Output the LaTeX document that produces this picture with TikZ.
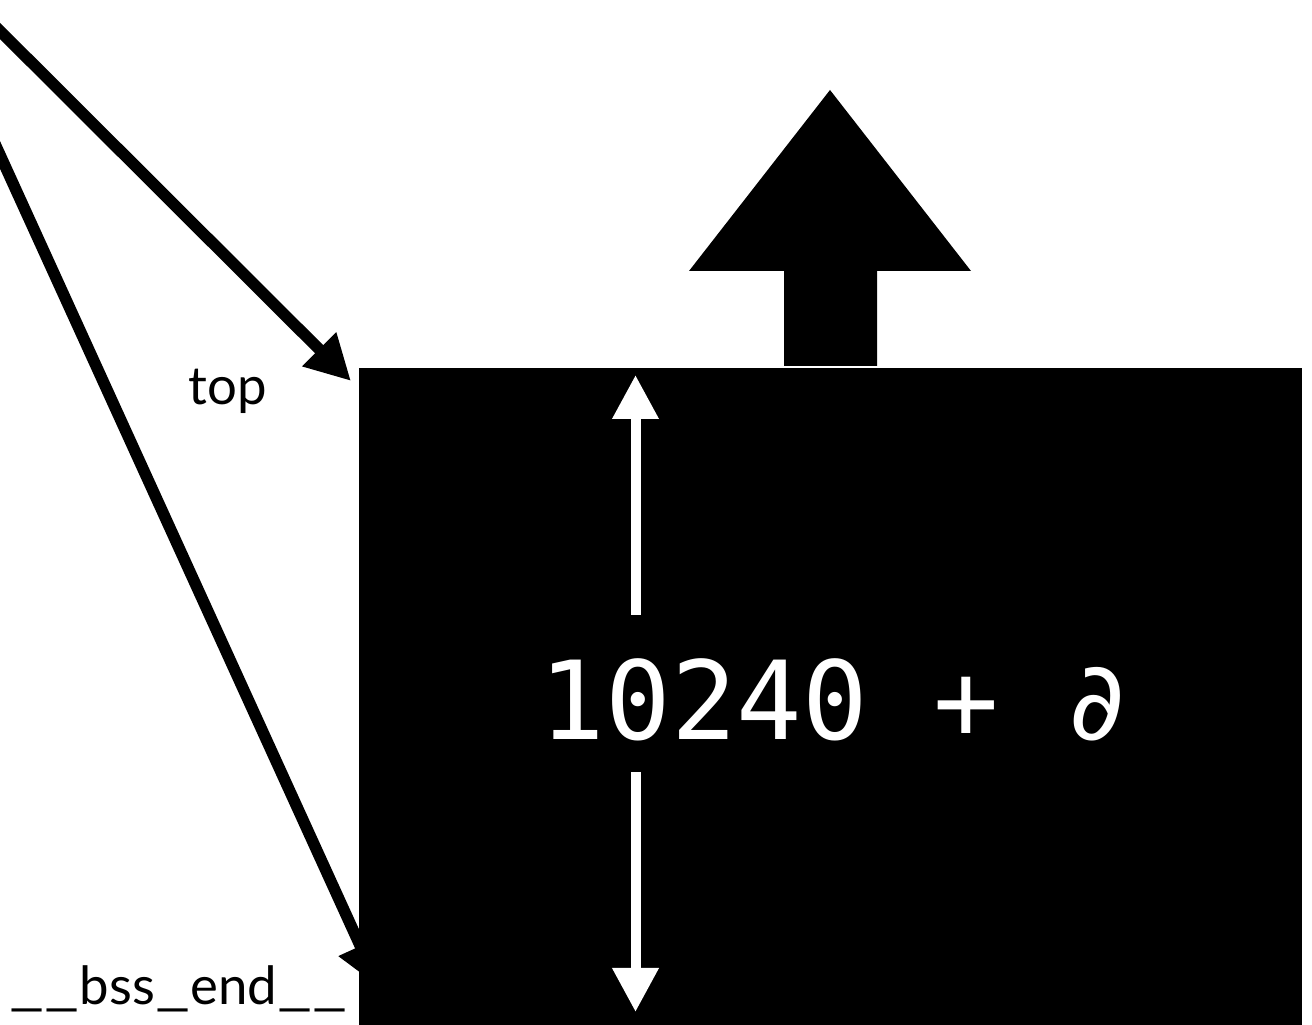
\documentclass[tikz,border=0pt]{standalone}
\usepackage{fontspec}
\usepackage{graphicx}
\setmainfont{Lato}
\newfontfamily\codefont{DejaVu Sans Mono}
\usetikzlibrary{arrows.meta,positioning,calc}

% wide underscore, as in the original label
\newcommand{\wideus}{\scalebox{1.45}[1]{\_}}

\begin{document}
\begin{tikzpicture}[
    pointer/.style={line width=0.23cm, -{Triangle[length=0.9cm,width=0.9cm]}},
    dimline/.style={draw=white, line width=0.2cm, -{Triangle[length=0.88cm,width=0.88cm]}},
    tag/.style={font=\fontsize{30}{34}\selectfont, anchor=base, inner sep=0pt},
    >=Triangle
  ]
    \useasboundingbox (0,0) rectangle (26.24,20.5);

    % pointers coming in from the left
    \coordinate (topsrc) at (-0.2,20.08);
    \coordinate (toptip) at (7.02,12.88);
    \coordinate (endsrc) at (-0.2,17.84);
    \coordinate (endtip) at (7.58,0.76);
    \draw[pointer] (topsrc) -- (toptip);
    \draw[pointer] (endsrc) -- (endtip);

    \node[tag] (top) at (4.56,12.4) {top};
    \node[tag] (bssend) at (3.57,0.4) {\wideus\wideus bss\wideus end\wideus\wideus};

    % growth arrow
    \fill (13.78,15.08) -- (16.6,18.7) -- (19.42,15.08) -- (17.54,15.08)
      -- (17.54,13.18) -- (15.68,13.18) -- (15.68,15.08) -- cycle;

    \node[fill=black, inner sep=0pt, anchor=south west,
      minimum width=18.86cm, minimum height=13.14cm] (region) at (7.18,0) {};

    \node[text=white, inner sep=0pt, anchor=base,
      font=\codefont\fontsize{62}{70}\selectfont] (size) at (16.7,5.7) {10240 + ∂};

    \coordinate (upfrom) at (12.71,8.2);
    \coordinate (upto) at (12.71,13.0);
    \coordinate (downfrom) at (12.71,5.06);
    \coordinate (downto) at (12.71,0.26);
    \draw[dimline] (upfrom) -- (upto);
    \draw[dimline] (downfrom) -- (downto);
  \end{tikzpicture}
\end{document}
